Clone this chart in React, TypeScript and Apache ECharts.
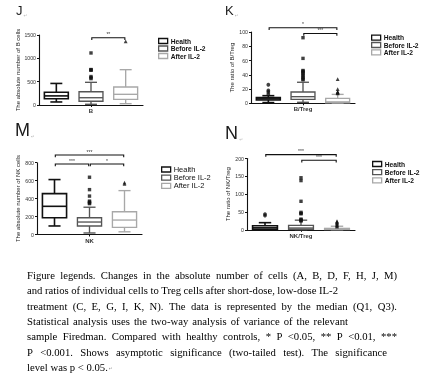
import React, { useEffect, useRef } from 'react';
import * as echarts from 'echarts';

// ---------- data ----------
const groupNames = ['Health', 'Before IL-2', 'After IL-2'];
const panelLetters = ['J', 'K', 'M', 'N'];
const categoryLabels = ['B', 'B/Treg', 'NK', 'NK/Treg'];
const yTitles = [
  'The absolute number of B cells',
  'The ratio of B/Treg',
  'The absolute number of NK cells',
  'The ratio of NK/Treg',
];
const yMax = [1500, 100, 800, 200];
const yInterval = [500, 20, 200, 50];

// box values: [lower whisker, Q1, median, Q3, upper whisker]
const bBoxes = [
  [65, 135, 195, 272, 462],
  [15, 80, 156, 285, 486],
  [28, 122, 229, 386, 757],
];
const bOutliers = [[], [1115, 760, 752, 745, 610, 585, 565], [1365]];

const bTregBoxes = [
  [1, 4.6, 6.2, 8, 10.7],
  [1.4, 5.6, 9.3, 15.8, 29.5],
  [0.4, 0.8, 2, 7, 12.5],
];
const bTregOutliers = [
  [26, 18, 16, 13],
  [92, 63, 46, 45, 44, 42, 40, 38, 36, 34, 33],
  [34, 20, 16, 15.5, 15, 14],
];

const nkBoxes = [
  [95, 187, 314, 455, 612],
  [17, 95, 139, 187, 304],
  [30, 79, 161, 254, 489],
];
const nkOutliers = [[], [638, 500, 428, 372, 362, 352, 344], [578, 565]];

const nkTregBoxes = [
  [0.5, 1.5, 5.5, 11.5, 20],
  [0.5, 1.5, 5, 12.5, 27],
  [0.3, 0.8, 2, 4, 10],
];
const nkTregOutliers = [
  [44, 40],
  [146, 138, 80, 49, 46, 45, 30, 28, 26, 25],
  [24, 22, 20, 18, 15, 13, 11, 9],
];

// significance brackets: [from group, to group, y value, label]
const bSig: [number, number, number, string][] = [[1, 2, 1442, '**']];
const bTregSig: [number, number, number, string][] = [
  [0, 2, 106, '*'],
  [1, 2, 98, '***'],
];
const nkSig: [number, number, number, string][] = [
  [0, 2, 886, '***'],
  [0, 1, 786, '***'],
  [1, 2, 786, '*'],
];
const nkTregSig: [number, number, number, string][] = [
  [0, 2, 211, '***'],
  [1, 2, 195, '***'],
];

const captionLines = [
  'Figure legends. Changes in the absolute number of cells (A, B, D, F, H, J, M)',
  'and ratios of individual cells to Treg cells after short-dose, low-dose IL-2',
  'treatment (C, E, G, I, K, N). The data is represented by the median (Q1, Q3).',
  'Statistical analysis uses the two-way analysis of variance of the relevant',
  'sample Firedman. Compared with healthy controls, * P <0.05, ** P <0.01, ***',
  'P <0.001. Shows asymptotic significance (two-tailed test). The significance',
  'level was p < 0.05.',
];

// ---------- styles / layout ----------
const SANS = 'Liberation Sans, Arial, sans-serif';
const SERIF = '"Liberation Serif", "Times New Roman", serif';
const CAPTION_SIZE = 10.7;
const captionLeft = 27;
const captionRight = [397, 338, 397, 348, 397, 387, 0]; // 0 = natural width
const captionTop = 275.5;
const captionStep = 15.3;

const groupColors = ['#111111', '#555555', '#a8a8a8'];
const groupLineWidths = [1.6, 1.35, 1.35];
const outlierSymbols = ['circle', 'rect', 'triangle'];

const grids = [
  { left: 39, top: 35, width: 104, height: 70 },
  { left: 251, top: 32, width: 104, height: 71.3 },
  { left: 37, top: 162.7, width: 105, height: 71.8 },
  { left: 247, top: 158.5, width: 108, height: 71.3 },
];
const legendLayouts = [
  { left: 158, top: 37.5, fontSize: 6.7, bold: true, gap: 7.5 },
  { left: 371, top: 34.2, fontSize: 6.7, bold: true, gap: 7.3 },
  { left: 161, top: 165.5, fontSize: 7.5, bold: false, gap: 7.2 },
  { left: 372, top: 160.5, fontSize: 6.7, bold: true, gap: 8.2 },
];
const letterLayouts = [
  { x: 16, y: 12, size: 13, w: 0.5 },
  { x: 225, y: 12, size: 13, w: 0.67 },
  { x: 15, y: 132, size: 18, w: 0.84 },
  { x: 225, y: 135, size: 18, w: 0.74 },
];

const panels = [
  { boxes: bBoxes, outliers: bOutliers, sig: bSig },
  { boxes: bTregBoxes, outliers: bTregOutliers, sig: bTregSig },
  { boxes: nkBoxes, outliers: nkOutliers, sig: nkSig },
  { boxes: nkTregBoxes, outliers: nkTregOutliers, sig: nkTregSig },
];

// measure with the DOM so the same font matching as the SVG text is used
function makeMeasurer() {
  const span = document.createElement('span');
  span.style.position = 'absolute';
  span.style.left = '-9999px';
  span.style.top = '0';
  span.style.visibility = 'hidden';
  span.style.whiteSpace = 'pre';
  span.style.fontFamily = SERIF;
  span.style.fontSize = CAPTION_SIZE + 'px';
  document.body.appendChild(span);
  const fn = (text: string) => {
    span.textContent = text;
    return span.getBoundingClientRect().width;
  };
  const done = () => span.remove();
  return { fn, done };
}

function makeBoxRender(color: string, lw: number) {
  return (params: any, api: any) => {
    const x = api.value(0);
    const lo = api.coord([x, api.value(1)]);
    const q1 = api.coord([x, api.value(2)]);
    const med = api.coord([x, api.value(3)]);
    const q3 = api.coord([x, api.value(4)]);
    const hi = api.coord([x, api.value(5)]);
    const bw = api.size([1, 0])[0] * 0.69;
    const cw = bw / 2;
    const cx = lo[0];
    const st = { stroke: color, lineWidth: lw, fill: null };
    return {
      type: 'group',
      children: [
        { type: 'line', shape: { x1: cx, y1: lo[1], x2: cx, y2: q1[1] }, style: st },
        { type: 'line', shape: { x1: cx, y1: q3[1], x2: cx, y2: hi[1] }, style: st },
        { type: 'line', shape: { x1: cx - cw / 2, y1: lo[1], x2: cx + cw / 2, y2: lo[1] }, style: st },
        { type: 'line', shape: { x1: cx - cw / 2, y1: hi[1], x2: cx + cw / 2, y2: hi[1] }, style: st },
        {
          type: 'rect',
          shape: { x: cx - bw / 2, y: q3[1], width: bw, height: q1[1] - q3[1] },
          style: { stroke: color, lineWidth: lw, fill: '#ffffff' },
        },
        { type: 'line', shape: { x1: cx - bw / 2, y1: med[1], x2: cx + bw / 2, y2: med[1] }, style: st },
      ],
    };
  };
}

function makeSigRender(sig: [number, number, number, string][]) {
  return (params: any, api: any) => {
    const a = api.coord([api.value(0), api.value(2)]);
    const b = api.coord([api.value(1), api.value(2)]);
    const x1 = a[0] + 0.8;
    const x2 = b[0] - 0.8;
    const y = a[1];
    return {
      type: 'group',
      children: [
        {
          type: 'polyline',
          shape: { points: [[x1, y + 2.2], [x1, y], [x2, y], [x2, y + 2.2]] },
          style: { stroke: '#111111', lineWidth: 1.1, fill: null },
        },
        {
          type: 'text',
          style: {
            text: sig[params.dataIndex][3],
            x: (x1 + x2) / 2,
            y: y - 0.8,
            align: 'center',
            verticalAlign: 'bottom',
            fontSize: 5,
            fontFamily: SANS,
            fill: '#333333',
          },
        },
      ],
    };
  };
}

function buildOption() {
  const series: any[] = [];
  panels.forEach((p, i) => {
    p.boxes.forEach((box, g) => {
      series.push({
        type: 'custom',
        name: groupNames[g],
        xAxisIndex: i,
        yAxisIndex: i,
        clip: false,
        itemStyle: { color: groupColors[g] },
        encode: { x: 0, y: [1, 2, 3, 4, 5] },
        data: [[g, ...box]],
        renderItem: makeBoxRender(groupColors[g], groupLineWidths[g]),
        z: 2,
      });
    });
    p.outliers.forEach((vals, g) => {
      series.push({
        type: 'scatter',
        name: groupNames[g],
        xAxisIndex: i,
        yAxisIndex: i,
        symbol: outlierSymbols[g],
        symbolSize: g === 1 ? 3.4 : 3.8,
        itemStyle: { color: '#111111' },
        data: vals.map((v) => [g, v]),
        z: 3,
      });
    });
    series.push({
      type: 'custom',
      name: 'sig',
      xAxisIndex: i,
      yAxisIndex: i,
      clip: false,
      itemStyle: { color: '#333333' },
      encode: { x: [0, 1], y: 2 },
      data: p.sig.map((s) => [s[0], s[1], s[2]]),
      renderItem: makeSigRender(p.sig),
      z: 4,
    });
  });

  const graphic: any[] = [];
  panelLetters.forEach((l, i) => {
    const L = letterLayouts[i];
    graphic.push({
      type: 'text',
      left: L.x,
      top: L.y - L.size * 0.6,
      style: { text: l, fontSize: L.size, fontFamily: SANS, fill: '#1a1a1a' },
    });
    graphic.push({
      type: 'text',
      left: L.x + L.size * L.w + 1,
      top: L.y + L.size * 0.1,
      style: { text: '\u21b5', fontSize: 4.5, fontFamily: 'DejaVu Sans', fill: '#aaaaaa' },
    });
  });

  // caption, spread word by word to the reference's line ends
  const m = makeMeasurer();
  captionLines.forEach((line, k) => {
    const top = captionTop + k * captionStep - 6;
    const words = line.split(' ');
    const widths = words.map((w) => m.fn(w));
    const total = widths.reduce((s, w) => s + w, 0);
    const target = captionRight[k];
    const natGap = m.fn('a a') - m.fn('aa');
    const gap =
      target > 0 && words.length > 1 ? (target - captionLeft - total) / (words.length - 1) : natGap;
    let x = captionLeft;
    words.forEach((w, j) => {
      graphic.push({
        type: 'text',
        left: x,
        top,
        style: { text: w, fontSize: CAPTION_SIZE, fontFamily: SERIF, fill: '#000000' },
      });
      x += widths[j] + gap;
    });
    if (k === captionLines.length - 1) {
      graphic.push({
        type: 'text',
        left: x - gap + 1,
        top: top + 5,
        style: { text: '\u21b5', fontSize: 4.5, fontFamily: 'DejaVu Sans', fill: '#d07070' },
      });
    }
  });
  m.done();

  return {
    animation: false,
    backgroundColor: '#ffffff',
    grid: grids.map((g) => ({ ...g, containLabel: false })),
    xAxis: grids.map((_, i) => ({
      type: 'category',
      gridIndex: i,
      data: groupNames,
      axisLine: { show: true, lineStyle: { color: '#111', width: 1.1 } },
      axisTick: {
        show: true,
        alignWithLabel: true,
        interval: (idx: number) => idx === 1,
        length: 2,
        lineStyle: { color: '#111', width: 1 },
      },
      axisLabel: {
        show: true,
        interval: 0,
        formatter: (v: string, idx: number) => (idx === 1 ? categoryLabels[i] : ''),
        fontSize: 6,
        fontWeight: 'bold',
        fontFamily: SANS,
        color: '#333',
        margin: 3,
      },
      splitLine: { show: false },
    })),
    yAxis: grids.map((_, i) => ({
      type: 'value',
      gridIndex: i,
      min: 0,
      max: yMax[i],
      interval: yInterval[i],
      axisLine: { show: true, lineStyle: { color: '#111', width: 1.1 } },
      axisTick: { show: true, length: 2, lineStyle: { color: '#111', width: 1 } },
      axisLabel: {
        fontSize: 5.2,
        fontFamily: SANS,
        color: '#333',
        margin: 3,
        formatter: (v: number) => String(v),
      },
      splitLine: { show: false },
      name: yTitles[i],
      nameLocation: 'middle',
      nameGap: 16,
      nameRotate: 90,
      nameTextStyle: { fontSize: 6, fontFamily: SANS, color: '#222' },
    })),
    legend: legendLayouts.map((L) => ({
      orient: 'vertical',
      left: L.left,
      top: L.top,
      itemWidth: 9,
      itemHeight: 5,
      itemGap: L.gap - 7,
      padding: 0,
      selectedMode: false,
      textStyle: {
        fontSize: L.fontSize,
        fontWeight: L.bold ? 'bold' : 'normal',
        fontFamily: SANS,
        color: '#111',
        lineHeight: 6,
        padding: [0, 0, 0, -2],
      },
      data: groupNames.map((n, g) => ({
        name: n,
        icon: 'rect',
        itemStyle: { color: '#ffffff', borderColor: groupColors[g], borderWidth: 1.3 },
      })),
    })),
    series,
    graphic,
  };
}

export default function App() {
  const ref = useRef<HTMLDivElement>(null);
  useEffect(() => {
    if (!ref.current) return;
    const chart = echarts.init(ref.current, undefined, { renderer: 'svg' });
    chart.setOption(buildOption() as any);
    return () => chart.dispose();
  }, []);
  return (
    <div
      ref={ref}
      style={{
        position: 'fixed',
        left: 0,
        top: 0,
        width: 439,
        height: 380,
        background: '#fff',
        filter: 'grayscale(1)',
      }}
    />
  );
}
